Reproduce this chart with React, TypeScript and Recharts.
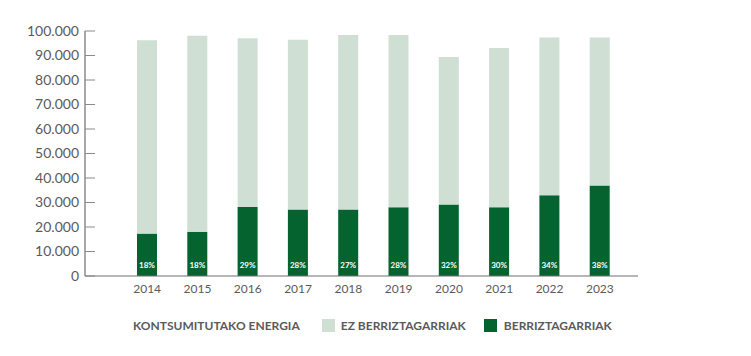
import React from 'react';
import { BarChart, Bar, XAxis, YAxis, Legend, LabelList } from 'recharts';

const years = ['2014', '2015', '2016', '2017', '2018', '2019', '2020', '2021', '2022', '2023'];
const renewable = [17300, 18100, 28200, 27100, 27100, 28100, 29200, 28100, 33000, 36900];
const nonRenewable = [78900, 80000, 68800, 69300, 71300, 70300, 60200, 65000, 64300, 60400];
const sharePct = [18, 18, 29, 28, 27, 28, 32, 30, 34, 38];
const yTicks = [0, 10000, 20000, 30000, 40000, 50000, 60000, 70000, 80000, 90000, 100000];

const LIGHT = '#cfdfd4';
const DARK = '#04632f';
const GREY = '#5a5a5a';
const FONT = 'Lato, "Open Sans", sans-serif';

const data = years.map((year, i) => ({
  year,
  renewable: renewable[i],
  nonRenewable: nonRenewable[i],
  share: sharePct[i],
}));

const formatThousands = (v: number) => String(v).replace(/\B(?=(\d{3})+(?!\d))/g, '.');

const renderShare = (props: any) => {
  const { x, y, width, height, value } = props;
  return (
    <text
      x={Number(x) + Number(width) / 2}
      y={Number(y) + Number(height) - 11}
      fill="#fff"
      fontSize={8}
      fontWeight={700}
      fontFamily={FONT}
      textAnchor="middle"
      dominantBaseline="central"
    >
      {value}%
    </text>
  );
};

const LegendContent = () => (
  <div
    style={{
      display: 'flex',
      alignItems: 'center',
      fontFamily: FONT,
      fontWeight: 700,
      fontSize: 12,
      color: GREY,
      paddingLeft: 133,
      whiteSpace: 'nowrap',
    }}
  >
    <span>KONTSUMITUTAKO ENERGIA</span>
    <span style={{ width: 13, height: 13, background: LIGHT, marginLeft: 22, marginRight: 6 }} />
    <span>EZ BERRIZTAGARRIAK</span>
    <span style={{ width: 13, height: 13, background: DARK, marginLeft: 18, marginRight: 7 }} />
    <span>BERRIZTAGARRIAK</span>
  </div>
);

export default function App() {
  return (
    <div style={{ position: 'absolute', left: 0, top: 0, background: '#fff' }}>
      <BarChart
        width={751}
        height={356}
        data={data}
        margin={{ top: 31, right: 113, left: 0, bottom: 50 }}
      >
        <XAxis
          dataKey="year"
          height={30}
          padding={{ left: 37, right: 13 }}
          tickLine={false}
          axisLine={{ stroke: '#6e6e6e', strokeWidth: 1.2 }}
          tick={{ fill: GREY, fontSize: 12, fontFamily: FONT }}
        />
        <YAxis
          width={85}
          domain={[0, 100000]}
          ticks={yTicks}
          interval={0}
          tickFormatter={formatThousands}
          tickSize={-10}
          tickMargin={16}
          axisLine={{ stroke: '#6e6e6e', strokeWidth: 1.2 }}
          tickLine={{ stroke: '#8a8a8a' }}
          tick={{ fill: GREY, fontSize: 14, fontFamily: FONT }}
        />
        <Legend
          layout="horizontal"
          verticalAlign="middle"
          align="center"
          wrapperStyle={{ top: 318, left: 0, width: 751 }}
          content={<LegendContent />}
        />
        <Bar dataKey="renewable" stackId="a" fill={DARK} barSize={20} isAnimationActive={false}>
          <LabelList dataKey="share" content={renderShare} />
        </Bar>
        <Bar dataKey="nonRenewable" stackId="a" fill={LIGHT} barSize={20} isAnimationActive={false} />
      </BarChart>
    </div>
  );
}
